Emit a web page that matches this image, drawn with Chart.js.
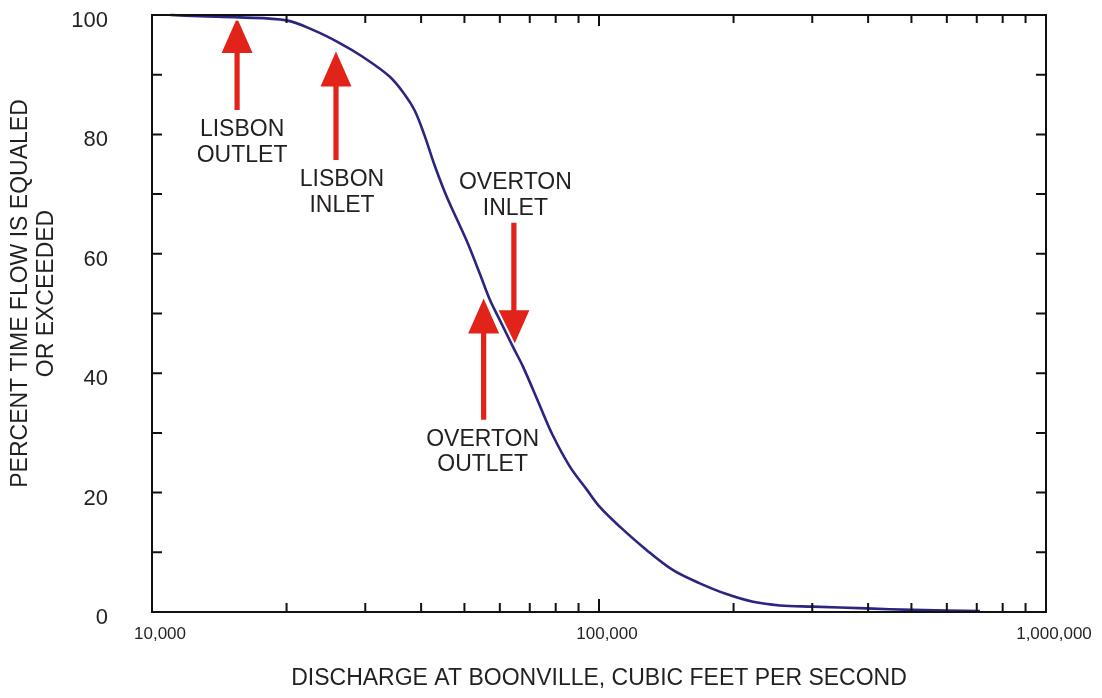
<!DOCTYPE html>
<html>
<head>
<meta charset="utf-8">
<script src="https://cdn.jsdelivr.net/npm/chart.js@4.4.1/dist/chart.umd.min.js"></script>
<style>
  html, body { margin: 0; padding: 0; background: #ffffff; }
  canvas { display: block; }
</style>
</head>
<body>
<canvas id="flow" width="1102" height="698"></canvas>
<script>
// Flow-duration curve for the Missouri River at Boonville
const discharge = [11000, 12800, 15700, 20000, 22900, 26300, 29600, 34000, 36750, 38700,
                   40720, 42890, 45620, 50500, 54100, 57000, 60000, 64200, 67600, 73700,
                   78800, 86000, 93900, 100400, 111300, 127700, 146500, 168100, 192900, 221200,
                   253900, 300900, 396900, 504000, 711800];
const percentExceeded = [100, 99.8, 99.6, 99.1, 97.5, 95.3, 93.0, 89.7, 86.7, 84.0,
                         79.8, 74.8, 69.6, 62.3, 56.7, 52.3, 48.9, 44.4, 41.1, 34.6,
                         29.6, 24.4, 20.5, 17.6, 14.3, 10.4, 7.0, 4.8, 3.0, 1.7,
                         1.1, 0.9, 0.6, 0.35, 0.15];

const xTickValues = [10000, 100000, 1000000];
const xTickLabels = ['10,000', '100,000', '1,000,000'];
const yTickValues = [0, 20, 40, 60, 80, 100];

// Sites marked on the curve: discharge at each site and the arrow span (percent)
const siteLabels = [['LISBON', 'OUTLET'], ['LISBON', 'INLET'], ['OVERTON', 'INLET'], ['OVERTON', 'OUTLET']];
const siteDischarge = [15500, 25800, 64500, 55200];
const arrowTip = [99.5, 93.9, 44.7, 52.5];
const arrowTail = [84.1, 75.7, 65.2, 32.2];

const FONT = '"Liberation Sans", Arial, Helvetica, sans-serif';
const TEXT = '#231f20';
const RED = '#e2231a';
const CURVE = '#2b2481';

const points = discharge.map((q, i) => ({ x: q, y: percentExceeded[i] }));

const overlay = {
  id: 'overlay',
  beforeDatasetsDraw(chart) {
    const { ctx } = chart;
    const xs = chart.scales.x, ys = chart.scales.y;
    ctx.save();
    ctx.fillStyle = RED;
    siteDischarge.forEach((q, i) => {
      const x = xs.getPixelForValue(q);
      const tip = ys.getPixelForValue(arrowTip[i]);
      const tail = ys.getPixelForValue(arrowTail[i]);
      const dir = Math.sign(tail - tip);
      const headLen = 35, headHalf = 15.5, shaftHalf = 2.6;
      const base = tip + dir * headLen;
      ctx.beginPath();
      ctx.moveTo(x, tip);
      ctx.lineTo(x + headHalf, base);
      ctx.lineTo(x + shaftHalf, base);
      ctx.lineTo(x + shaftHalf, tail);
      ctx.lineTo(x - shaftHalf, tail);
      ctx.lineTo(x - shaftHalf, base);
      ctx.lineTo(x - headHalf, base);
      ctx.closePath();
      ctx.fill();
    });
    ctx.restore();
  },
  afterDatasetsDraw(chart) {
    const { ctx, chartArea: a } = chart;
    const xs = chart.scales.x, ys = chart.scales.y;
    ctx.save();
    ctx.strokeStyle = '#111111';
    ctx.lineWidth = 2;
    ctx.strokeRect(a.left, a.top, a.right - a.left, a.bottom - a.top);
    ctx.beginPath();
    // inward ticks every 10 percent on both vertical sides
    for (let v = 10; v < 100; v += 10) {
      const y = ys.getPixelForValue(v);
      ctx.moveTo(a.left, y); ctx.lineTo(a.left + 10, y);
      ctx.moveTo(a.right, y); ctx.lineTo(a.right - 10, y);
    }
    // log-cycle ticks on the bottom and top
    for (let d = 10000; d < 1000000; d *= 10) {
      for (let m = 1; m <= 9; m++) {
        const v = d * m;
        if (v <= 10000) continue;
        const x = xs.getPixelForValue(v);
        const major = m === 1;
        ctx.moveTo(x, a.bottom); ctx.lineTo(x, a.bottom - (major ? 13 : 9));
        ctx.moveTo(x, a.top); ctx.lineTo(x, a.top + (major ? 11 : 8));
      }
    }
    ctx.stroke();
    ctx.restore();
  },
  afterDraw(chart) {
    const { ctx } = chart;
    const xs = chart.scales.x, ys = chart.scales.y;
    const labelDx = [5, 6, 1.5, -1];
    ctx.save();
    ctx.fillStyle = TEXT;
    ctx.font = '23px ' + FONT;
    ctx.textAlign = 'center';
    ctx.textBaseline = 'alphabetic';
    siteLabels.forEach((lines, i) => {
      const x = xs.getPixelForValue(siteDischarge[i]) + labelDx[i];
      const tip = ys.getPixelForValue(arrowTip[i]);
      const tail = ys.getPixelForValue(arrowTail[i]);
      let b1;
      if (tail > tip) b1 = tail + 26;           // arrow points up: text below it
      else b1 = tail - 8 - 25.5 * (lines.length - 1); // arrow points down: text above it
      lines.forEach((t, k) => ctx.fillText(t, x, b1 + k * 25.6));
    });
    // vertical axis title
    const yTitle = ['PERCENT TIME FLOW IS EQUALED', 'OR EXCEEDED'];
    const baseX = [27, 53.3];
    yTitle.forEach((t, k) => {
      ctx.save();
      ctx.translate(baseX[k], 293.5);
      ctx.rotate(-Math.PI / 2);
      ctx.fillText(t, 0, 0);
      ctx.restore();
    });
    ctx.restore();
  }
};

new Chart(document.getElementById('flow'), {
  type: 'line',
  data: {
    datasets: [
      {
        data: points,
        borderColor: CURVE,
        borderWidth: 2.6,
        pointRadius: 0,
        tension: 0.35,
        fill: false,
        clip: false,
        order: 0
      },
      {
        data: points,
        borderColor: '#ffffff',
        borderWidth: 6.5,
        pointRadius: 0,
        tension: 0.35,
        fill: false,
        clip: false,
        order: 1
      }
    ]
  },
  options: {
    responsive: false,
    animation: false,
    devicePixelRatio: 1,
    layout: { padding: { top: 15, right: 56, left: 0, bottom: 0 }, autoPadding: false },
    plugins: { legend: { display: false }, tooltip: { enabled: false } },
    scales: {
      x: {
        type: 'logarithmic',
        min: 10000,
        max: 1000000,
        afterBuildTicks: s => { s.ticks = xTickValues.map(v => ({ value: v })); },
        afterFit: s => { s.height = 86; s.paddingLeft = 0; s.paddingRight = 0; },
        grid: { display: false, drawTicks: false },
        border: { display: false },
        ticks: {
          autoSkip: false,
          maxRotation: 0,
          padding: 12,
          labelOffset: 8,
          color: TEXT,
          font: { family: FONT, size: 17 },
          callback: (v, i) => xTickLabels[i]
        },
        title: {
          display: true,
          text: 'DISCHARGE AT BOONVILLE, CUBIC FEET PER SECOND',
          color: TEXT,
          font: { family: FONT, size: 23 },
          padding: { top: 6, bottom: 6 }
        }
      },
      y: {
        type: 'linear',
        min: 0,
        max: 100,
        afterBuildTicks: s => { s.ticks = yTickValues.map(v => ({ value: v })); },
        afterFit: s => { s.width = 152; s.paddingTop = 0; s.paddingBottom = 0; },
        grid: { display: false, drawTicks: false },
        border: { display: false },
        ticks: {
          padding: 44,
          labelOffset: 6,
          color: TEXT,
          font: { family: FONT, size: 22 }
        }
      }
    }
  },
  plugins: [overlay]
});
</script>
</body>
</html>
